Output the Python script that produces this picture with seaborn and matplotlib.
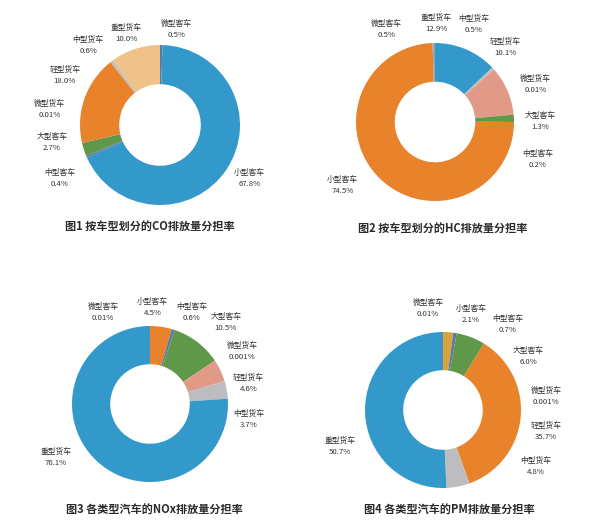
import matplotlib
matplotlib.use("Agg")
import matplotlib.pyplot as plt
import seaborn as sns

# =========================================
# DATA
# =========================================

# chart 1 - CO
co_names = ["微型客车", "小型客车", "中型客车", "大型客车",
            "微型货车", "轻型货车", "中型货车", "重型货车"]
co_values = [0.5, 67.8, 0.4, 2.7, 0.01, 18.0, 0.6, 10.0]
co_labels = ["0.5%", "67.8%", "0.4%", "2.7%", "0.01%", "18.0%", "0.6%", "10.0%"]

# chart 2 - HC
hc_names = ["重型货车", "中型货车", "轻型货车", "微型货车",
            "大型客车", "中型客车", "小型客车", "微型客车"]
hc_values = [12.9, 0.5, 10.1, 0.01, 1.3, 0.2, 74.5, 0.5]
hc_labels = ["12.9%", "0.5%", "10.1%", "0.01%", "1.3%", "0.2%", "74.5%", "0.5%"]

# chart 3 - NOx
nox_names = ["微型客车", "小型客车", "中型客车", "大型客车",
             "微型货车", "轻型货车", "中型货车", "重型货车"]
nox_values = [0.01, 4.5, 0.6, 10.5, 0.001, 4.6, 3.7, 76.1]
nox_labels = ["0.01%", "4.5%", "0.6%", "10.5%", "0.001%", "4.6%", "3.7%", "76.1%"]

# chart 4 - PM
pm_names = ["微型客车", "小型客车", "中型客车", "大型客车",
            "微型货车", "轻型货车", "中型货车", "重型货车"]
pm_values = [0.01, 2.1, 0.7, 6.0, 0.001, 35.7, 4.8, 50.7]
pm_labels = ["0.01%", "2.1%", "0.7%", "6.0%", "0.001%", "35.7%", "4.8%", "50.7%"]

titles = [
    "图1 按车型划分的CO排放量分担率",
    "图2 按车型划分的HC排放量分担率",
    "图3 各类型汽车的NOx排放量分担率",
    "图4 各类型汽车的PM排放量分担率",
]


# =========================================
# STYLE
# =========================================

sns.set_theme(style="white")
plt.rcParams["font.family"] = ["Noto Sans CJK SC", "DejaVu Sans"]

BLUE = "#3399cb"
ORANGE = "#e8822b"
GREEN = "#5f9848"
TAN = "#efc28a"
PINK = "#e09a87"
LGRAY = "#bdbdbf"
SLATE = "#5a7aa6"
MUSTARD = "#d9a33b"
GRAY = "#9aa3ad"

co_colors = [SLATE, BLUE, SLATE, GREEN, "#999999", ORANGE, LGRAY, TAN]
hc_colors = [BLUE, LGRAY, PINK, "#999999", GREEN, SLATE, ORANGE, GRAY]
nox_colors = [GRAY, ORANGE, SLATE, GREEN, "#999999", PINK, LGRAY, BLUE]
pm_colors = [GRAY, MUSTARD, SLATE, GREEN, "#999999", ORANGE, LGRAY, BLUE]

# label positions in units of the outer radius
co_pos = [(0.21, 1.19), (1.12, -0.67), (-1.25, -0.67), (-1.35, -0.22),
          (-1.38, 0.19), (-1.19, 0.62), (-0.90, 1.00), (-0.42, 1.15)]
hc_pos = [(0.02, 1.25), (0.49, 1.24), (0.89, 0.94), (1.27, 0.47),
          (1.33, 0.00), (1.30, -0.47), (-1.17, -0.80), (-0.61, 1.17)]
nox_pos = [(-0.60, 1.17), (0.03, 1.24), (0.53, 1.17), (0.97, 1.05),
           (1.18, 0.68), (1.26, 0.26), (1.27, -0.20), (-1.21, -0.68)]
pm_pos = [(-0.19, 1.30), (0.36, 1.23), (0.83, 1.09), (1.09, 0.68),
          (1.32, 0.17), (1.32, -0.28), (1.19, -0.72), (-1.32, -0.47)]

W, H = 600, 525
fig = plt.figure(figsize=(W / 100, H / 100), dpi=100)
fig.patch.set_facecolor("white")

# (center x px, center y px from top, radius px, title x px, title y px)
layout = [
    (160, 125, 80, 150, 227),
    (435, 122, 79, 443, 229),
    (150, 404, 78, 154, 510),
    (443, 410, 78, 449, 510),
]

charts = [
    (co_names, co_values, co_labels, co_colors, co_pos),
    (hc_names, hc_values, hc_labels, hc_colors, hc_pos),
    (nox_names, nox_values, nox_labels, nox_colors, nox_pos),
    (pm_names, pm_values, pm_labels, pm_colors, pm_pos),
]


# =========================================
# DRAW
# =========================================

for (names, values, labels, colors, pos), (cx, cy, r, tx, ty), title in zip(
        charts, layout, titles):

    s = 1.7 * r
    ax = fig.add_axes([
        (cx - s) / W,
        (H - cy - s) / H,
        2 * s / W,
        2 * s / H,
    ])

    ax.pie(
        values,
        colors=colors,
        startangle=90,
        counterclock=False,
        radius=1,
        wedgeprops=dict(width=0.49, linewidth=0),
    )

    ax.set_xlim(-1.7, 1.7)
    ax.set_ylim(-1.7, 1.7)
    ax.set_aspect("equal")
    ax.axis("off")

    for name, lab, (px, py) in zip(names, labels, pos):
        ax.text(
            px, py,
            name + "\n" + lab,
            ha="center",
            va="center",
            fontsize=5.6,
            color="#333333",
            linespacing=1.5,
            clip_on=False,
        )

    fig.text(
        tx / W,
        1 - ty / H,
        title,
        ha="center",
        va="center",
        fontsize=8,
        fontweight="bold",
        color="#2a2a2a",
    )

fig.savefig("out.png", dpi=100, facecolor="white")
